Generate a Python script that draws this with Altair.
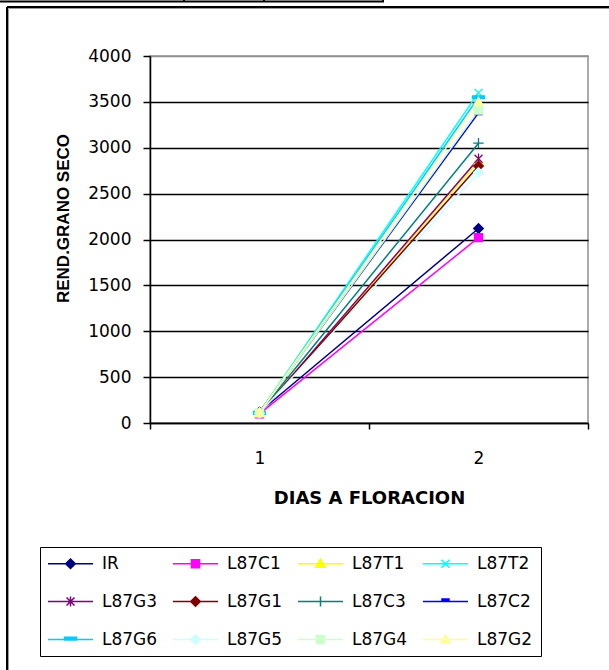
import altair as alt
import pandas as pd

# ---- data ----
series = ["IR", "L87C1", "L87T1", "L87T2", "L87G3", "L87G1",
          "L87C3", "L87C2", "L87G6", "L87G5", "L87G4", "L87G2"]
days = [1, 2]
rend_day1 = [120, 100, 110, 115, 105, 110, 115, 120, 110, 105, 110, 115]
rend_day2 = [2120, 2020, 2850, 3600, 2880, 2800, 3050, 3380, 3550, 2730, 3410, 3500]
y_ticks = [0, 500, 1000, 1500, 2000, 2500, 3000, 3500, 4000]
x_title = "DIAS A FLORACION"
y_title = "REND.GRANO SECO"

# ---- styles ----
colors = ["#000080", "#FF00FF", "#FFFF00", "#00FFFF", "#800080", "#800000",
          "#008080", "#0000FF", "#00CCFF", "#CCFFFF", "#CCFFCC", "#FFFF99"]

DIAM = "M0,-1.2L1.2,0L0,1.2L-1.2,0Z"
SQR = "M-1,-1H1V1H-1Z"
TRI = "M0,-1.15L1.15,0.9H-1.15Z"
XMK = "M-1,-1L1,1M-1,1L1,-1"
STAR = "M-1,-1L1,1M-1,1L1,-1M0,-1.3V1.3"
PLUS = "M0,-1.3V1.3M-1.3,0H1.3"
SDASH = "M-0.9,-0.4H0.9V0.4H-0.9Z"
LDASH = "M-1.5,-0.35H1.5V0.35H-1.5Z"
marker_paths = [DIAM, SQR, TRI, XMK, STAR, DIAM, PLUS, SDASH, LDASH, DIAM, SQR, TRI]

# legend symbols: line segment plus marker (units of 5 px)
L_LINE = "M-4.5,0H4.5"
LDIAM = "M0,-0.96L0.96,0L0,0.96L-0.96,0Z"
LSQR = "M-0.8,-0.8H0.8V0.8H-0.8Z"
LTRI = "M0,-0.92L0.92,0.72H-0.92Z"
LXMK = "M-0.8,-0.8L0.8,0.8M-0.8,0.8L0.8,-0.8"
LSTAR = "M-0.8,-0.8L0.8,0.8M-0.8,0.8L0.8,-0.8M0,-1V1"
LPLUS = "M0,-1V1"
LSDASH = "M-0.7,-0.5H0.7V0H-0.7Z"
LLDASH = "M-1.2,-0.45H1.2V0.1H-1.2Z"
legend_paths = [L_LINE + p for p in [LDIAM, LSQR, LTRI, LXMK, LSTAR, LDIAM, LPLUS,
                                     LSDASH, LLDASH, LDIAM, LSQR, LTRI]]

rows = []
for s, a, b in zip(series, rend_day1, rend_day2):
    rows.append({"series": s, "day": days[0], "rend": a})
    rows.append({"series": s, "day": days[1], "rend": b})
df = pd.DataFrame(rows)

FONT = "DejaVu Sans"

x_enc = alt.X(
    "day:O",
    bandPosition=0.5,
    scale=alt.Scale(type="band", paddingInner=0, paddingOuter=0),
    axis=alt.Axis(
        title=x_title, tickBand="extent", labelAngle=0, labelBaseline="alphabetic",
        labelPadding=34, tickSize=6, tickColor="black", tickWidth=1.5,
        domainColor="black", domainWidth=1.5, grid=False,
        labelFont=FONT, labelFontSize=17, labelColor="black",
        titleFont=FONT, titleFontSize=18, titleFontWeight="bold", titleColor="black",
        titleX=219, titleY=80, titleBaseline="alphabetic", titleAlign="center",
    ),
)
y_enc = alt.Y(
    "rend:Q",
    scale=alt.Scale(domain=[0, 4000], nice=False, zero=True),
    axis=alt.Axis(
        values=y_ticks, title=y_title, labelOverlap=False, format="d",
        tickSize=7, tickColor="black", tickWidth=1.5, labelPadding=12,
        domainColor="black", domainWidth=1.5,
        grid=True, gridWidth=1.3,
        gridColor={"condition": {"test": "datum.value >= 4000", "value": "#909090"}, "value": "black"},
        labelFont=FONT, labelFontSize=17, labelColor="black",
        titleFont="Liberation Sans", titleFontSize=17, titleFontWeight="bold", titleColor="black",
        titleAngle=270, titleX=-82, titleY=162, titleBaseline="alphabetic", titleAlign="center",
    ),
)

color_scale = alt.Scale(domain=series, range=colors)

lines = alt.Chart(df).mark_line(strokeWidth=1.5).encode(
    x=x_enc, y=y_enc,
    stroke=alt.Stroke("series:N", scale=color_scale, legend=None),
)

points = alt.Chart(df).mark_point(filled=True, opacity=1, size=64, strokeWidth=1.3).encode(
    x=x_enc, y=y_enc,
    fill=alt.Fill("series:N", scale=color_scale, legend=None),
    stroke=alt.Stroke("series:N", scale=color_scale, legend=None),
    shape=alt.Shape("series:N", scale=alt.Scale(domain=series, range=marker_paths), legend=None),
)

leg = alt.Legend(
    title=None, orient="none", direction="horizontal", legendX=-110, legendY=491, columns=4,
    columnPadding=12, rowPadding=20, padding=8, strokeColor="black",
    symbolSize=100, symbolStrokeWidth=1.5, symbolOffset=14, labelOffset=23,
    labelFont=FONT, labelFontSize=17, labelColor="black", symbolOpacity=1,
)

legend_layer = alt.Chart(df).mark_point(filled=True, opacity=1, size=100, strokeWidth=1.5).encode(
    fill=alt.Fill("series:N", scale=color_scale, legend=leg),
    stroke=alt.Stroke("series:N", scale=color_scale, legend=leg),
    shape=alt.Shape("series:N", scale=alt.Scale(domain=series, range=legend_paths), legend=leg),
).transform_filter("false")

# decorative frame (chart border and cut-off table line above it)
one = alt.Data(values=[{}])
frame_black = alt.Chart(one).mark_rule(color="black", strokeWidth=2)
frame_gray = alt.Chart(one).mark_rule(color="#9a9a9a", strokeWidth=1)
frame = [
    frame_black.encode(x=alt.value(-143), y=alt.value(-49), y2=alt.value(620)),
    frame_black.encode(x=alt.value(-143), x2=alt.value(470), y=alt.value(-49)),
    frame_gray.encode(x=alt.value(-141.5), y=alt.value(-47.5), y2=alt.value(620)),
    frame_gray.encode(x=alt.value(-141.5), x2=alt.value(470), y=alt.value(-47.5)),
    frame_black.encode(x=alt.value(-151), x2=alt.value(234), y=alt.value(-54.5)),
    frame_black.encode(x=alt.value(34), y=alt.value(-57), y2=alt.value(-54)),
    frame_black.encode(x=alt.value(114), y=alt.value(-57), y2=alt.value(-54)),
    frame_black.encode(x=alt.value(233), y=alt.value(-57), y2=alt.value(-54)),
]

chart = alt.layer(lines, points, legend_layer, *frame).resolve_scale(
    stroke="independent", fill="independent", shape="independent"
).properties(
    width=438, height=367,
    autosize=alt.AutoSizeParams(type="none"),
    padding={"left": 150, "top": 56, "right": 21, "bottom": 247},
    background="white",
).configure_view(stroke="#909090", strokeWidth=1.5)

chart.save("out.html", embed_options={"renderer": "svg", "actions": False})
